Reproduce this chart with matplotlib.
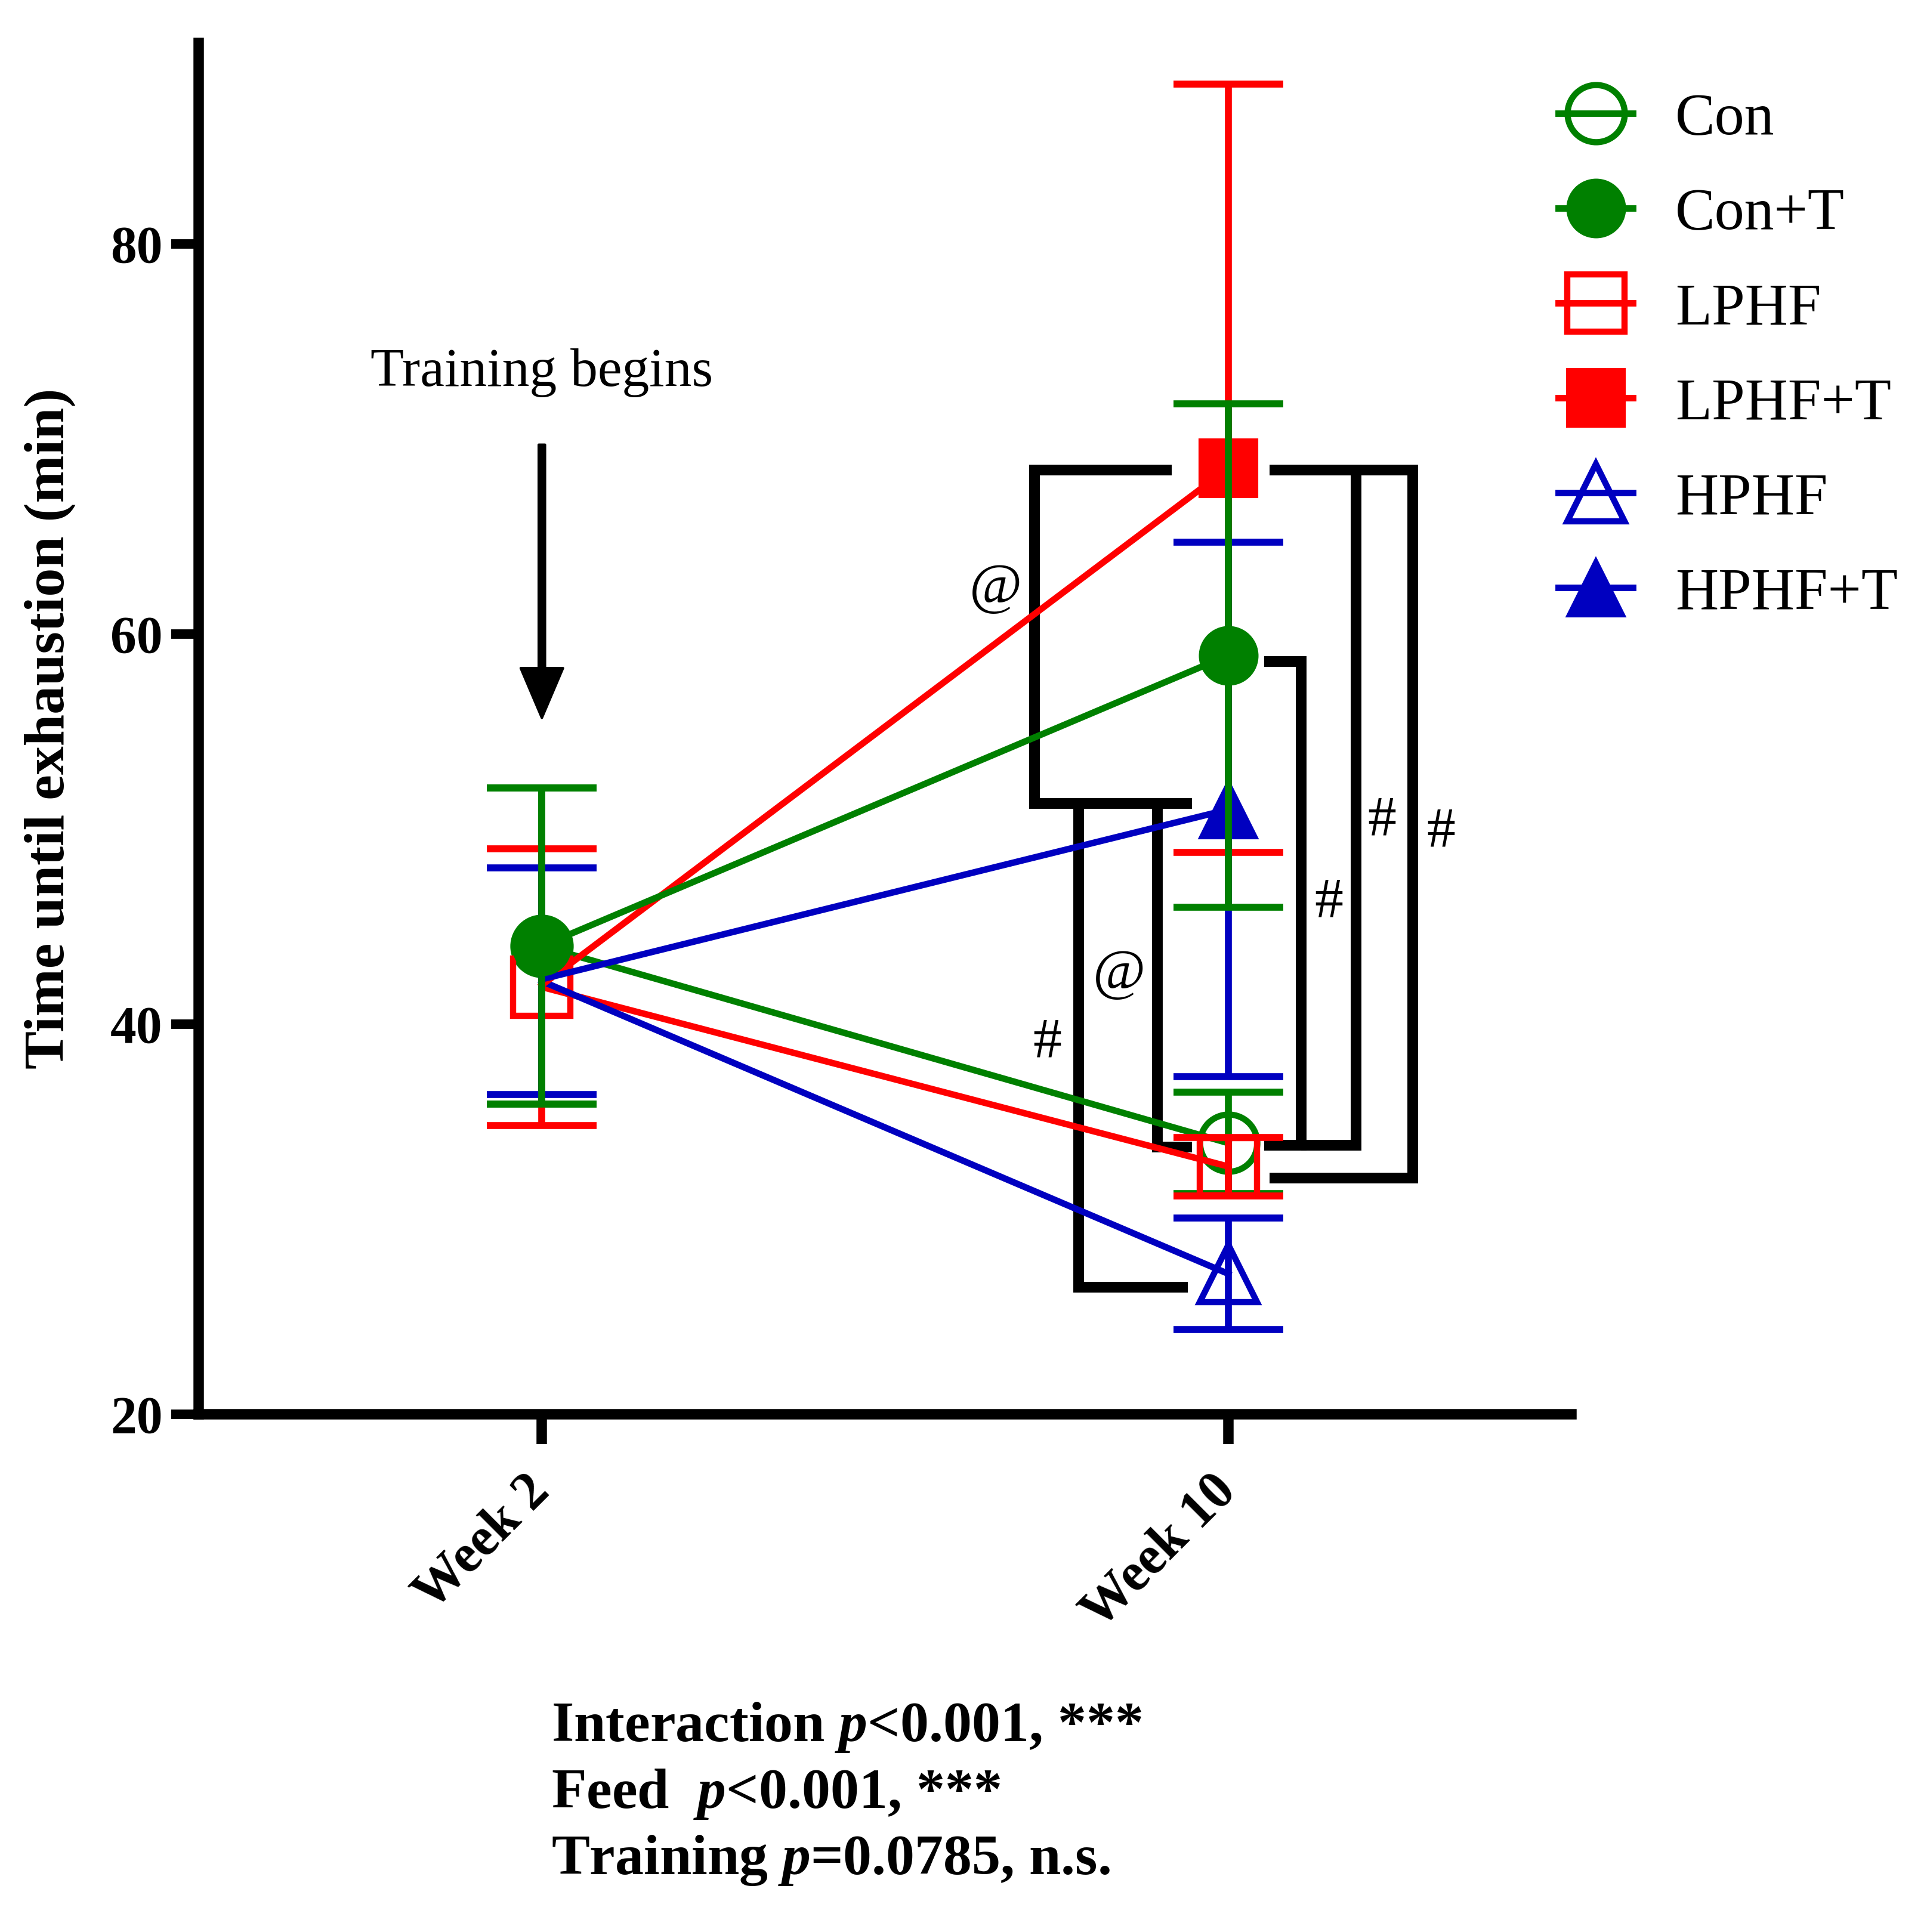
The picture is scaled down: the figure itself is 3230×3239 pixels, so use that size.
import numpy as np
import matplotlib.pyplot as plt
import matplotlib.transforms as mtransforms
from matplotlib.lines import Line2D

plt.rcParams['font.family'] = ['Liberation Serif', 'DejaVu Serif']
plt.rcParams['mathtext.fontset'] = 'custom'
plt.rcParams['mathtext.rm'] = 'Liberation Serif:bold'
plt.rcParams['mathtext.it'] = 'Liberation Serif:italic:bold'

#donnees###################################################################
weeks = ['Week 2', 'Week 10']
groups = ['Con', 'Con+T', 'LPHF', 'LPHF+T', 'HPHF', 'HPHF+T']

# nan = pas de barre d'erreur visible a la semaine 2 (groupes +T)
con = [44.0, 33.9]
con_sd = [8.1, 2.6]
con_t = [44.0, 58.9]
con_t_sd = [8.1, 12.9]
lphf = [41.9, 32.7]
lphf_sd = [7.1, 1.5]
lphf_t = [42.0, 68.5]
lphf_t_sd = [np.nan, 19.7]
hphf = [42.2, 27.2]
hphf_sd = [5.8, 2.85]
hphf_t = [42.3, 51.0]
hphf_t_sd = [np.nan, 13.7]

# crochets de significativite (x en position de categorie, y en min)
brackets = [
    ([0.918, 0.718, 0.718, 0.947], [68.4, 68.4, 51.3, 51.3]),
    ([0.782, 0.782, 0.941], [51.3, 26.5, 26.5]),
    ([0.897, 0.897, 0.947], [51.3, 33.7, 33.7]),
    ([1.052, 1.106, 1.106, 1.052], [58.6, 58.6, 33.8, 33.8]),
    ([1.060, 1.186, 1.186, 1.106], [68.4, 68.4, 33.8, 33.8]),
    ([1.060, 1.269, 1.269, 1.060], [68.4, 68.4, 32.1, 32.1]),
]
sig_marks = ['@', '#', '@', '#', '#', '#']
sig_x = [0.661, 0.736, 0.841, 1.146, 1.224, 1.310]
sig_y = [62.3, 39.0, 42.5, 46.2, 50.4, 49.8]

stats_lines = [r'Interaction $p$<0.001, ***',
               r'Feed  $p$<0.001, ***',
               r'Training $p$=0.0785, n.s.']

green = '#008000'
red = '#FF0000'
blue = '#0000C0'

#figure####################################################################
fig = plt.figure(figsize=(3230 / 300, 3239 / 300), dpi=300)
ax = fig.add_axes([0.1031, 0.268, 0.8155 - 0.1031, 0.9778 - 0.268])

x = np.arange(len(weeks))

# nom: (moyennes, sd, couleur, marqueur, plein, points avec marqueur)
series = {
    'Con': (con, con_sd, green, 'o', False, [0, 1]),
    'Con+T': (con_t, con_t_sd, green, 'o', True, [0, 1]),
    'LPHF': (lphf, lphf_sd, red, 's', False, [0, 1]),
    'LPHF+T': (lphf_t, lphf_t_sd, red, 's', True, [1]),
    'HPHF': (hphf, hphf_sd, blue, '^', False, [1]),
    'HPHF+T': (hphf_t, hphf_t_sd, blue, '^', True, [1]),
}
draw_order = ['Con', 'LPHF', 'HPHF', 'LPHF+T', 'HPHF+T', 'Con+T']

handles = {}
for z, name in enumerate(draw_order):
    mean, sd, col, mk, filled, every = series[name]
    style = dict(color=col, lw=2.6, marker=mk, ms=23,
                 mfc=col if filled else 'none', mec=col,
                 mew=2.5 if not filled else 1.0)
    ax.errorbar(x, mean, yerr=sd, fmt='none', ecolor=col, elinewidth=2.8,
                capsize=22, capthick=2.8, zorder=3 + z)
    ax.plot(x, mean, markevery=every, zorder=3 + z, **style)
    handles[name] = Line2D([], [], **style)

# crochets
for bx, by in brackets:
    ax.plot(bx, by, color='black', lw=4.3, solid_joinstyle='miter',
            solid_capstyle='butt', clip_on=False, zorder=2)
for s, sx, sy in zip(sig_marks, sig_x, sig_y):
    ax.text(sx, sy, s, ha='center', va='center', fontsize=23, zorder=20)

# fleche debut entrainement
ax.annotate('', xy=(0, 55.7), xytext=(0, 69.7),
            arrowprops=dict(facecolor='black', edgecolor='black', width=2.5,
                            headwidth=17, headlength=20, shrink=0))
ax.text(0, 73.4, 'Training begins', ha='center', va='center', fontsize=22)

#axes######################################################################
ax.set_xlim(-0.5, 1.5)
ax.set_ylim(20, 90.3)
ax.set_yticks([20, 40, 60, 80])
ax.set_yticklabels(['20', '40', '60', '80'], fontweight='bold', fontsize=21)
ax.set_xticks(x)
ax.set_xticklabels(weeks, fontweight='bold', fontsize=21.5, rotation=45,
                   ha='right', va='center', rotation_mode='anchor')
shift = mtransforms.ScaledTranslation(0.09, 0, fig.dpi_scale_trans)
for lab in ax.get_xticklabels():
    lab.set_transform(lab.get_transform() + shift)
ax.spines['top'].set_visible(False)
ax.spines['right'].set_visible(False)
ax.spines['left'].set_linewidth(4.2)
ax.spines['bottom'].set_linewidth(4.2)
ax.tick_params(axis='y', length=11, width=3.8, pad=3.5)
ax.tick_params(axis='x', length=12, width=4.2, pad=16)
ax.set_ylabel('Time until exhaustion (min)', fontweight='bold', fontsize=23,
              labelpad=14)

leg = ax.legend([handles[g] for g in groups], groups, loc='upper left',
                bbox_to_anchor=(0.8087, 0.952),
                bbox_transform=fig.transFigure, frameon=False, fontsize=24,
                handlelength=1.25, handletextpad=0.71, labelspacing=0.68,
                borderpad=0, borderaxespad=0, numpoints=1)

#texte stats###############################################################
for txt, ty in zip(stats_lines, [0.0988, 0.0642, 0.0299]):
    fig.text(0.286, ty, txt, fontweight='bold', fontsize=23, va='baseline')

fig.savefig('out.png', dpi=300)
